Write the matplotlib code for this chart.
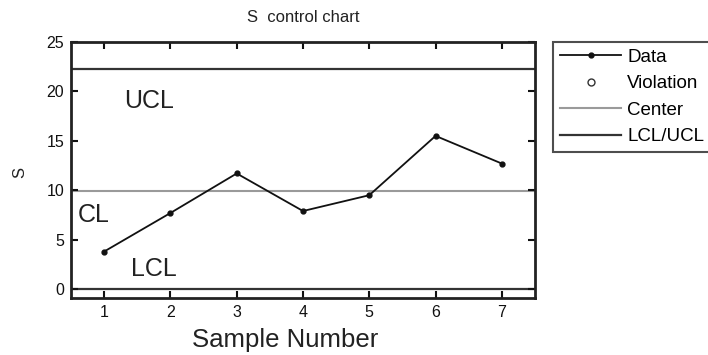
import matplotlib
matplotlib.use("Agg")
import matplotlib.pyplot as plt
from matplotlib.lines import Line2D

plt.rcParams['font.family'] = ['Liberation Sans', 'DejaVu Sans']

samples = [1, 2, 3, 4, 5, 6, 7]
s_values = [3.8, 7.7, 11.7, 7.9, 9.5, 15.5, 12.7]
center = 9.9
ucl = 22.3
lcl = 0.0
xticks = [1, 2, 3, 4, 5, 6, 7]
yticks = [0, 5, 10, 15, 20, 25]

fig = plt.figure(figsize=(7.08, 3.55), dpi=100)
ax = fig.add_axes([71/708, 1-298/355, (535-71)/708, (298-42)/355])

ax.axhline(center, color='#9a9a9a', lw=1.5, zorder=1)
ax.axhline(ucl, color='#333333', lw=1.6, zorder=1)
ax.axhline(lcl, color='#333333', lw=1.6, zorder=1)
ax.plot(samples, s_values, color='#111111', lw=1.3, marker='o', ms=3.5, zorder=3)

ax.set_xlim(0.5, 7.5)
ax.set_ylim(-0.9, 25)
ax.set_xticks(xticks)
ax.set_yticks(yticks)
ax.tick_params(direction='in', length=5, width=1.5, top=True, right=True,
               labelsize=11.5, pad=5, colors='#111111')
for sp in ax.spines.values():
    sp.set_linewidth(2)
    sp.set_color('#222222')

ax.text(1.3, 19.0, 'UCL', fontsize=18, ha='left', va='center', color='#222222')
ax.text(0.6, 7.5, 'CL', fontsize=18, ha='left', va='center', color='#222222')
ax.text(1.4, 2.0, 'LCL', fontsize=18, ha='left', va='center', color='#222222')

fig.text(303/708, 1-17/355, 'S  control chart', fontsize=12, ha='center', va='center',
         color='#222222')
ax.set_xlabel('Sample Number', fontsize=18.5, color='#222222')
ax.xaxis.set_label_coords((285-71)/(535-71), -(340-298)/(298-42))
ax.xaxis.label.set_va('center')
ax.set_ylabel('S', fontsize=12, color='#222222')
ax.yaxis.set_label_coords(-(71-20)/(535-71), (298-172)/(298-42))
ax.yaxis.label.set_va('center')

handles = [
    Line2D([], [], color='#111111', lw=1.3, marker='o', ms=3.5),
    Line2D([], [], color='#333333', lw=0, marker='o', ms=5, mfc='none', mew=1),
    Line2D([], [], color='#9a9a9a', lw=1.5),
    Line2D([], [], color='#333333', lw=1.6),
]
labels = ['Data', 'Violation', 'Center', 'LCL/UCL']
leg = fig.legend(handles, labels, loc='upper left', bbox_to_anchor=(553/708, 1-42/355),
                 fontsize=13.5, frameon=True, fancybox=False, handlelength=3.3,
                 handletextpad=0.3, labelspacing=0.5, borderpad=0.35, borderaxespad=0)
leg.get_frame().set_edgecolor('#222222')
leg.get_frame().set_linewidth(1.5)

fig.savefig('out.png', dpi=100)
